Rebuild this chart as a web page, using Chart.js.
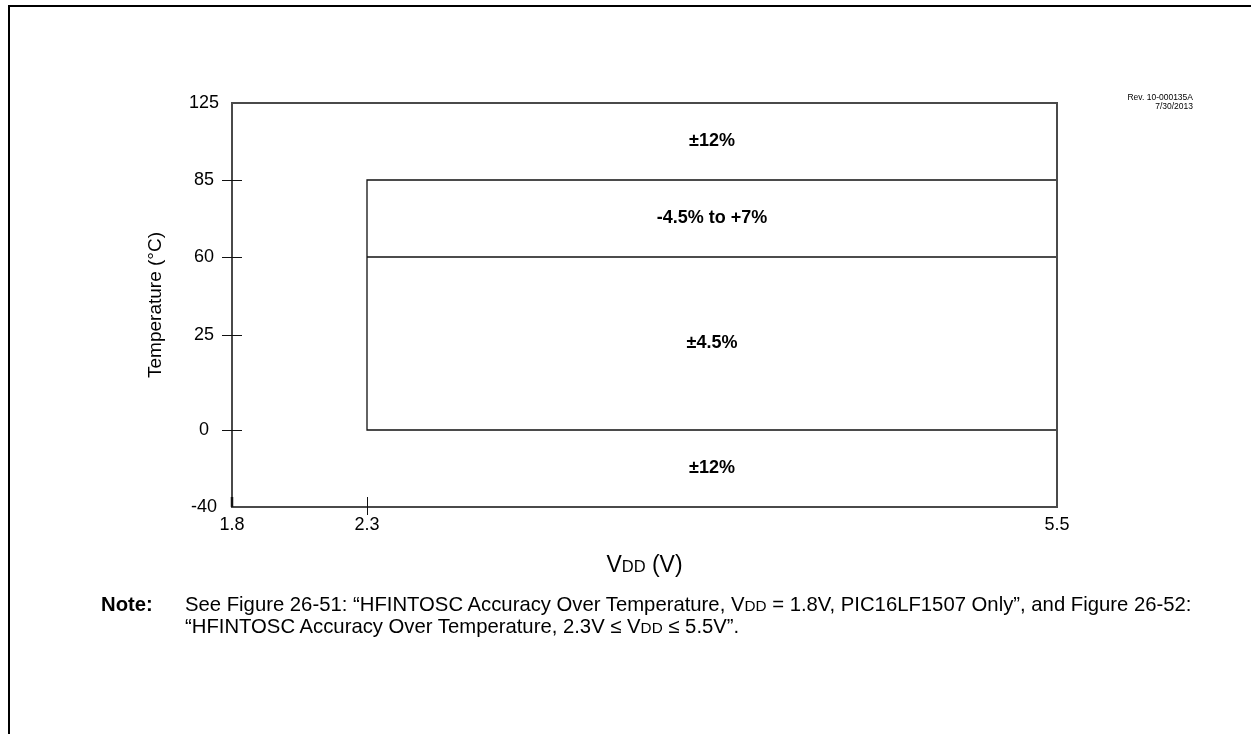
<!DOCTYPE html>
<html><head><meta charset="utf-8">
<script src="https://cdn.jsdelivr.net/npm/chart.js@4/dist/chart.umd.min.js"></script>
<style>
html,body{margin:0;padding:0;background:#fff;}
body{width:1251px;height:734px;position:relative;overflow:hidden;font-family:"Liberation Sans",Arial,sans-serif;color:#000;}
#frame{position:absolute;left:8px;top:5px;width:1400px;height:900px;border-left:2px solid #000;border-top:2px solid #000;}
#c{position:absolute;left:0;top:0;}
#rev{position:absolute;right:58px;top:93px;font-size:8.5px;line-height:9px;text-align:right;}
#noteLbl{position:absolute;left:101px;top:594px;font-size:20.3px;line-height:20px;font-weight:bold;}
#noteTxt{position:absolute;left:185px;top:594px;font-size:20.3px;line-height:20px;white-space:nowrap;}
.sc{font-size:15.3px;}
</style></head>
<body>
<div id="frame"></div>
<canvas id="c" width="1251" height="734"></canvas>
<div id="rev">Rev. 10-000135A<br>7/30/2013</div>
<div id="noteLbl">Note:</div>
<div id="noteTxt">See Figure 26-51: “HFINTOSC Accuracy Over Temperature, V<span class="sc">DD</span> = 1.8V, PIC16LF1507 Only”, and Figure 26-52:<br>“HFINTOSC Accuracy Over Temperature, 2.3V ≤ V<span class="sc">DD</span> ≤ 5.5V”.</div>
<script>
// ---- data ----
const vddTicks = [1.8, 2.3, 5.5];
const tempTicks = [-40, 0, 25, 60, 85, 125];
const vddSpacing = [135, 690];          // relative axis spacing between ticks (axis is not linear)
const tempSpacing = [77, 95, 78, 77, 77];
const boundaryOuter = [{x:5.5,y:0},{x:2.3,y:0},{x:2.3,y:85},{x:5.5,y:85}];
const boundary60 = [{x:2.3,y:60},{x:5.5,y:60}];
const regionLabels = ['±12%', '-4.5% to +7%', '±4.5%', '±12%'];
const regionTempLo = [85, 60, 0, -40];
const regionTempHi = [125, 85, 60, 0];
const regionVdd = [2.3, 5.5];
const yCrossTicks = [0, 25, 60, 85];

// ---- piecewise-linear scale ----
class PiecewiseScale extends Chart.LinearScale {
  _toDec(v) {
    const st = this.options.stops, w = this.options.spacing;
    const total = w.reduce((a,b)=>a+b,0);
    let acc = 0;
    for (let i = 0; i < st.length - 1; i++) {
      if (v <= st[i+1] || i === st.length - 2) {
        return (acc + (v - st[i]) / (st[i+1] - st[i]) * w[i]) / total;
      }
      acc += w[i];
    }
    return 0;
  }
  _fromDec(d) {
    const st = this.options.stops, w = this.options.spacing;
    const total = w.reduce((a,b)=>a+b,0);
    let t = d * total, acc = 0;
    for (let i = 0; i < st.length - 1; i++) {
      if (t <= acc + w[i] || i === st.length - 2) {
        return st[i] + (t - acc) / w[i] * (st[i+1] - st[i]);
      }
      acc += w[i];
    }
    return st[0];
  }
  getPixelForValue(v) {
    if (v === null || v === undefined || isNaN(v)) return NaN;
    return this.getPixelForDecimal(this._toDec(v));
  }
  getValueForPixel(p) { return this._fromDec(this.getDecimalForPixel(p)); }
}
PiecewiseScale.id = 'piecewise';
Chart.register(PiecewiseScale);

const FONT = '"Liberation Sans", Arial, sans-serif';
const INK = '#111';

const decor = {
  id: 'decor',
  afterDatasetsDraw(chart) {
    const ctx = chart.ctx, xs = chart.scales.x, ys = chart.scales.y;
    ctx.save();
    // plot frame (axis box)
    const L = Math.round(xs.getPixelForValue(xs.min)), R = Math.round(xs.getPixelForValue(xs.max));
    const T = Math.round(ys.getPixelForValue(ys.max)), B = Math.round(ys.getPixelForValue(ys.min));
    ctx.strokeStyle = '#4a4a4a';
    ctx.lineWidth = 2;
    ctx.beginPath();
    ctx.moveTo(L, B + 1); ctx.lineTo(L, T); ctx.lineTo(R, T); ctx.lineTo(R, B); ctx.lineTo(L, B);
    ctx.stroke();
    ctx.strokeStyle = INK;
    ctx.lineWidth = 1;
    // y ticks crossing the axis
    yCrossTicks.forEach(v => {
      const py = Math.round(ys.getPixelForValue(v)) + 0.5;
      ctx.beginPath(); ctx.moveTo(L - 10, py); ctx.lineTo(L + 10, py); ctx.stroke();
    });
    // x ticks
    ctx.lineWidth = 2.5;
    ctx.beginPath(); ctx.moveTo(L, B - 10); ctx.lineTo(L, B); ctx.stroke();
    ctx.lineWidth = 1;
    const p23 = Math.round(xs.getPixelForValue(vddTicks[1])) + 0.5;
    ctx.beginPath(); ctx.moveTo(p23, B - 10); ctx.lineTo(p23, B + 8); ctx.stroke();
    // region labels
    ctx.fillStyle = '#000';
    ctx.font = 'bold 18px ' + FONT;
    ctx.textAlign = 'center'; ctx.textBaseline = 'middle';
    const cx = (xs.getPixelForValue(regionVdd[0]) + xs.getPixelForValue(regionVdd[1])) / 2;
    regionLabels.forEach((t, i) => {
      const cy = (ys.getPixelForValue(regionTempLo[i]) + ys.getPixelForValue(regionTempHi[i])) / 2;
      ctx.fillText(t, cx, cy);
    });
    // x axis title with small-caps subscript
    const parts = [['V', '23px'], ['DD', '16.5px'], [' (V)', '23px']];
    let wsum = 0;
    parts.forEach(p => { ctx.font = p[1] + ' ' + FONT; wsum += ctx.measureText(p[0]).width; });
    let tx = (chart.chartArea.left + chart.chartArea.right) / 2 - wsum / 2;
    const base = chart.chartArea.bottom + 65;
    ctx.textAlign = 'left'; ctx.textBaseline = 'alphabetic';
    parts.forEach(p => { ctx.font = p[1] + ' ' + FONT; ctx.fillText(p[0], tx, base); tx += ctx.measureText(p[0]).width; });
    ctx.restore();
  }
};

const lineDs = (data) => ({
  data, borderColor: INK, borderWidth: 1.3, pointRadius: 0, fill: false,
  tension: 0, stepped: 'before', clip: false
});

new Chart(document.getElementById('c'), {
  type: 'line',
  data: { datasets: [lineDs(boundaryOuter), lineDs(boundary60)] },
  options: {
    responsive: false, animation: false, devicePixelRatio: 1,
    layout: { padding: { left: 144, top: 103, right: 194, bottom: 0 } },
    plugins: { legend: { display: false }, tooltip: { enabled: false } },
    scales: {
      x: {
        type: 'piecewise', min: vddTicks[0], max: vddTicks[vddTicks.length-1],
        stops: vddTicks, spacing: vddSpacing,
        afterBuildTicks: s => { s.ticks = vddTicks.map(v => ({ value: v })); },
        afterFit: s => { s.height = 227; },
        grid: { display: false, drawTicks: false },
        border: { display: false },
        ticks: { autoSkip: false, maxRotation: 0, padding: 7, color: '#000',
          font: { family: FONT, size: 18 }, callback: v => String(v) }
      },
      y: {
        type: 'piecewise', min: tempTicks[0], max: tempTicks[tempTicks.length-1],
        stops: tempTicks, spacing: tempSpacing,
        afterBuildTicks: s => { s.ticks = tempTicks.map(v => ({ value: v })); },
        afterFit: s => { s.width = 88; },
        grid: { display: false, drawTicks: false },
        border: { display: false },
        ticks: { autoSkip: false, padding: 13, crossAlign: 'center', color: '#000',
          font: { family: FONT, size: 18 }, callback: v => String(v) },
        title: { display: true, text: 'Temperature (°C)', color: '#000', padding: 0,
          font: { family: FONT, size: 19 } }
      }
    }
  },
  plugins: [decor]
});
</script>
</body></html>
